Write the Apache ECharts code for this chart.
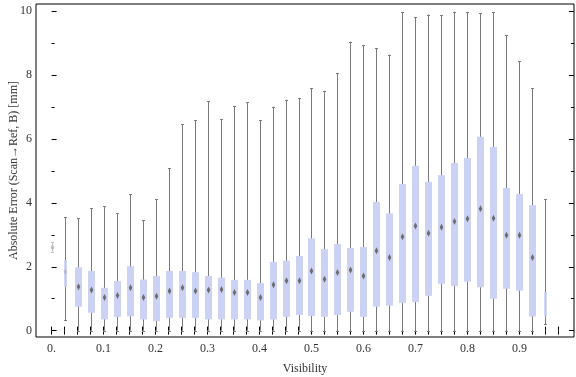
<!DOCTYPE html>
<html>
<head>
<meta charset="utf-8" />
<title>Box whisker - visibility</title>
<script src="https://cdn.jsdelivr.net/npm/echarts@6/dist/echarts.min.js"></script>
<style type="text/css">
html, body { margin: 0; padding: 0; background: #fff; }
#main { width: 576px; height: 377px; }
</style>
</head>
<body>
<div id="main"></div>
<script type="text/javascript">
// bin positions (visibility)
var visibility = [0, 0.025, 0.05, 0.075, 0.1, 0.125, 0.15, 0.175, 0.2, 0.225,
	0.25, 0.275, 0.3, 0.325, 0.35, 0.375, 0.4, 0.425, 0.45, 0.475,
	0.5, 0.525, 0.55, 0.575, 0.6, 0.625, 0.65, 0.675, 0.7, 0.725,
	0.75, 0.775, 0.8, 0.825, 0.85, 0.875, 0.9, 0.925, 0.95];

// whisker ends, box ends, median (mm)
var whiskerMin = [2.45, 0.33, 0, 0, 0, 0, 0, 0, 0, 0,
	0, 0, 0, 0, 0, 0, 0, 0, 0, 0,
	0, 0, 0, 0, 0, 0, 0, 0, 0, 0,
	0, 0, 0, 0, 0, 0, 0, 0, 0.2];
var boxLow = [2.52, 1.37, 0.75, 0.56, 0.35, 0.43, 0.45, 0.35, 0.30, 0.40,
	0.40, 0.40, 0.35, 0.35, 0.35, 0.35, 0.32, 0.35, 0.43, 0.49,
	0.46, 0.43, 0.49, 0.59, 0.43, 0.75, 0.78, 0.87, 0.90, 1.09,
	1.47, 1.40, 1.53, 1.36, 1.00, 1.31, 1.25, 0.44, 0.45];
var median = [2.6, 1.84, 1.37, 1.27, 1.04, 1.10, 1.34, 1.04, 1.08, 1.24,
	1.34, 1.24, 1.27, 1.29, 1.19, 1.19, 1.04, 1.44, 1.56, 1.56,
	1.87, 1.61, 1.82, 1.90, 1.71, 2.50, 2.29, 2.94, 3.28, 3.05,
	3.24, 3.42, 3.50, 3.82, 3.52, 2.99, 2.99, 2.29, 0.8];
var boxHigh = [2.70, 2.21, 1.98, 1.87, 1.34, 1.55, 2.02, 1.60, 1.71, 1.87,
	1.87, 1.83, 1.71, 1.66, 1.59, 1.59, 1.49, 2.15, 2.19, 2.34,
	2.89, 2.55, 2.71, 2.59, 2.62, 4.03, 3.67, 4.59, 5.16, 4.66,
	4.87, 5.25, 5.41, 6.07, 5.75, 4.47, 4.28, 3.93, 1.21];
var whiskerMax = [2.78, 3.55, 3.52, 3.83, 3.90, 3.67, 4.28, 3.46, 4.11, 5.08,
	6.47, 6.60, 7.19, 6.63, 7.04, 7.16, 6.60, 7.01, 7.23, 7.28,
	7.59, 7.51, 8.06, 9.05, 8.94, 8.85, 8.64, 9.97, 9.82, 9.90,
	9.88, 9.99, 9.97, 9.94, 9.97, 9.26, 8.44, 7.59, 4.11];

// tick labels
var xLabels = [0, 0.1, 0.2, 0.3, 0.4, 0.5, 0.6, 0.7, 0.8, 0.9];
var yLabels = [0, 2, 4, 6, 8, 10];
var yMinor = [1, 3, 5, 7, 9];
var xTicks = visibility.concat([0.975]);

// bins with only a few samples are drawn thin and faint
var thinBins = [0, 1, 38];

var data = visibility.map(function (v, i) {
	return [v, whiskerMin[i], boxLow[i], median[i], boxHigh[i], whiskerMax[i]];
});

var font = 'Liberation Serif, Times New Roman, serif';
var labelStyle = { fontFamily: font, fontSize: 12, color: '#333' };

function renderBox(params, api) {
	var idx = params.dataIndex;
	var x = api.value(0);
	var pMin = api.coord([x, api.value(1)]);
	var pLow = api.coord([x, api.value(2)]);
	var pMed = api.coord([x, api.value(3)]);
	var pHigh = api.coord([x, api.value(4)]);
	var pMax = api.coord([x, api.value(5)]);
	var cx = Math.round(pMed[0]) + 0.5;
	var thin = thinBins.indexOf(idx) >= 0;
	var faint = idx === 0;
	var bw = thin ? 3 : 7;
	var wColor = faint ? '#c4c4c4' : '#7a7a7a';
	var children = [];
	children.push({
		type: 'line',
		shape: { x1: cx, y1: pMin[1], x2: cx, y2: pMax[1] },
		style: { stroke: wColor, lineWidth: 1 }
	});
	children.push({
		type: 'line',
		shape: { x1: cx - 1.5, y1: Math.round(pMin[1]) + 0.5, x2: cx + 1.5, y2: Math.round(pMin[1]) + 0.5 },
		style: { stroke: wColor, lineWidth: 1 }
	});
	children.push({
		type: 'line',
		shape: { x1: cx - 1.5, y1: Math.round(pMax[1]) + 0.5, x2: cx + 1.5, y2: Math.round(pMax[1]) + 0.5 },
		style: { stroke: wColor, lineWidth: 1 }
	});
	if (!faint) {
		children.push({
			type: 'rect',
			shape: { x: cx - bw / 2, y: pHigh[1], width: bw, height: pLow[1] - pHigh[1] },
			style: { fill: '#ccd2f4', opacity: thin ? 0.85 : 1 }
		});
	}
	if (idx !== 38) {
		children.push({
			type: 'polygon',
			shape: { points: [[cx, pMed[1] - 3.5], [cx + 1.8, pMed[1]], [cx, pMed[1] + 3.5], [cx - 1.8, pMed[1]]] },
			style: { fill: thin ? '#b8bbc8' : '#6c6c6c' }
		});
	}
	return { type: 'group', children: children };
}

var myChart = echarts.init(document.getElementById('main'));

var option = {
	backgroundColor: '#fff',
	animation: false,
	grid: {
		left: 36, top: 4, width: 538, height: 333,
		outerBoundsMode: 'none', containLabel: false,
		show: true, borderColor: '#000', borderWidth: 1, backgroundColor: 'transparent'
	},
	xAxis: [
		{
			type: 'value', min: -0.03, max: 1.005, position: 'bottom',
			name: 'Visibility', nameLocation: 'middle', nameGap: 26, nameMoveOverlap: false,
			nameTextStyle: labelStyle,
			axisLine: { show: false },
			splitLine: { show: false },
			axisTick: { inside: true, length: 4, customValues: xTicks, lineStyle: { color: '#000' } },
			axisLabel: {
				customValues: xLabels, margin: 6, fontFamily: font, fontSize: 12, color: '#333',
				formatter: function (v) { return v === 0 ? '0.' : v.toFixed(1); }
			}
		},
		{
			type: 'value', min: -0.03, max: 1.005, position: 'top',
			axisLine: { show: false },
			splitLine: { show: false },
			axisTick: { inside: true, length: 4, customValues: xTicks, lineStyle: { color: '#000' } },
			axisLabel: { show: false }
		}
	],
	yAxis: [
		{
			type: 'value', min: -0.2, max: 10.23, position: 'left',
			name: 'Absolute Error (Scan\u2192Ref, B) [mm]', nameLocation: 'middle', nameGap: 16,
			nameMoveOverlap: false, nameRotate: 90, nameTextStyle: labelStyle,
			axisLine: { show: false },
			splitLine: { show: false },
			axisTick: { inside: true, length: 5, customValues: yLabels, lineStyle: { color: '#000' } },
			axisLabel: { customValues: yLabels, margin: 4, fontFamily: font, fontSize: 12, color: '#333' }
		},
		{
			type: 'value', min: -0.2, max: 10.23, position: 'left',
			axisLine: { show: false },
			splitLine: { show: false },
			axisTick: { inside: true, length: 3, customValues: yMinor, lineStyle: { color: '#000' } },
			axisLabel: { show: false }
		},
		{
			type: 'value', min: -0.2, max: 10.23, position: 'right',
			axisLine: { show: false },
			splitLine: { show: false },
			axisTick: { inside: true, length: 5, customValues: yLabels, lineStyle: { color: '#000' } },
			axisLabel: { show: false }
		},
		{
			type: 'value', min: -0.2, max: 10.23, position: 'right',
			axisLine: { show: false },
			splitLine: { show: false },
			axisTick: { inside: true, length: 3, customValues: yMinor, lineStyle: { color: '#000' } },
			axisLabel: { show: false }
		}
	],
	series: [
		{
			type: 'custom',
			xAxisIndex: 0,
			yAxisIndex: 0,
			renderItem: renderBox,
			encode: { x: 0, y: [1, 2, 3, 4, 5] },
			data: data
		}
	]
};

myChart.setOption(option);
</script>
</body>
</html>
